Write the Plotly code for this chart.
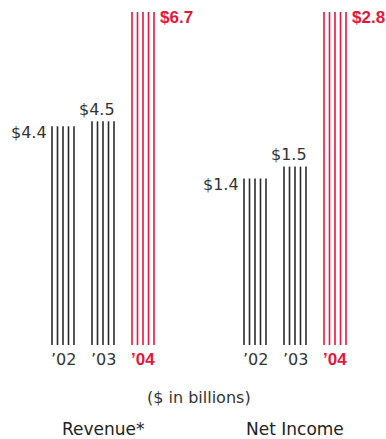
import plotly.graph_objects as go

years = ["\u201902", "\u201903", "\u201904"]
revenue = [4.4, 4.5, 6.7]
net_income = [1.4, 1.5, 2.8]
group_titles = ["Revenue*", "Net Income"]
unit_note = "($ in billions)"

GRAY = "#2b2b2b"
TEXT = "#333333"
RED = "#e3173b"
REG = "DejaVu Sans"
BOLD = "Liberation Sans"

W, H = 386, 439
offsets = [-0.275, -0.1375, 0.0, 0.1375, 0.275]

fig = go.Figure()
groups = [(revenue, "x", "y"), (net_income, "x2", "y2")]
for gi, (vals, xr, yr) in enumerate(groups):
    for i, v in enumerate(vals):
        xs, ys = [], []
        for o in offsets:
            xs += [i + o, i + o, None]
            ys += [0, v, None]
        col = RED if i == len(vals) - 1 else GRAY
        fig.add_trace(go.Scatter(x=xs, y=ys, mode="lines", xaxis=xr, yaxis=yr,
                                 line=dict(color=col, width=1.6), hoverinfo="skip",
                                 showlegend=False))

annotations = []
for gi, (vals, xr, yr) in enumerate(groups):
    # value labels
    for i, v in enumerate(vals):
        txt = "$%.1f" % v
        if i == 0:
            annotations.append(dict(x=i, y=v, xref=xr, yref=yr, text=txt, xanchor="right",
                                    yanchor="middle", xshift=-14, yshift=-6, showarrow=False,
                                    font=dict(family=REG, size=16, color=TEXT)))
        elif i == 1:
            annotations.append(dict(x=i, y=v, xref=xr, yref=yr, text=txt, xanchor="right",
                                    yanchor="middle", xshift=14, yshift=12, showarrow=False,
                                    font=dict(family=REG, size=16, color=TEXT)))
        else:
            annotations.append(dict(x=i, y=v, xref=xr, yref=yr, text="<b>%s</b>" % txt,
                                    xanchor="left", yanchor="middle", xshift=15, yshift=-6,
                                    showarrow=False,
                                    font=dict(family=BOLD, size=17, color=RED)))
    # year labels
    for i, yl in enumerate(years):
        last = i == len(years) - 1
        annotations.append(dict(x=i, y=0, xref=xr, yref=yr,
                                text=("<b>%s</b>" % yl) if last else yl,
                                xanchor="center", yanchor="middle", yshift=-14, showarrow=False,
                                font=dict(family=BOLD if last else REG, size=17 if last else 16,
                                          color=RED if last else TEXT)))
    annotations.append(dict(x=1, y=0, xref=xr, yref=yr, text=group_titles[gi], xanchor="center",
                            yanchor="middle", yshift=-84, showarrow=False,
                            font=dict(family=REG, size=17, color="#222222")))

annotations.append(dict(x=198.5 / W, y=1 - 397 / H, xref="paper", yref="paper", text=unit_note,
                        xanchor="center", yanchor="middle", showarrow=False,
                        font=dict(family=REG, size=16, color=TEXT)))

ax = dict(showgrid=False, zeroline=False, showticklabels=False, showline=False, ticks="",
          range=[-0.5, 2.5], fixedrange=True)
ydom = [1 - 345 / H, 1 - 12 / H]
fig.update_layout(
    width=W, height=H, autosize=False,
    margin=dict(l=0, r=0, t=0, b=0, pad=0),
    paper_bgcolor="white", plot_bgcolor="white",
    showlegend=False,
    xaxis=dict(ax, domain=[43 / W, 163 / W]),
    xaxis2=dict(ax, domain=[235 / W, 355 / W], anchor="y2"),
    yaxis=dict(showgrid=False, zeroline=False, showticklabels=False, showline=False, ticks="",
               range=[0, max(revenue)], domain=ydom, anchor="x"),
    yaxis2=dict(showgrid=False, zeroline=False, showticklabels=False, showline=False, ticks="",
                range=[0, max(net_income)], domain=ydom, anchor="x2"),
    annotations=annotations,
)

fig.write_html("out.html")
